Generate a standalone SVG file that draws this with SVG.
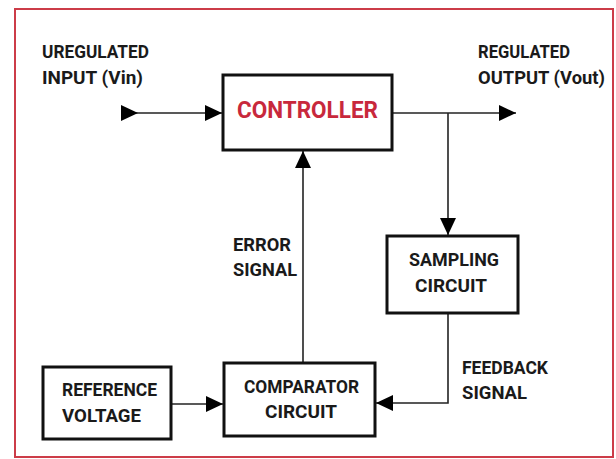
<svg xmlns="http://www.w3.org/2000/svg" width="616" height="459" viewBox="0 0 616 459">
<style>
.box{fill:#fff;stroke:#111;stroke-width:3}
.t{font-family:Roboto,"Liberation Sans",Arial,sans-serif;font-weight:bold;font-size:18px;fill:#1a1a1a}
.big{font-size:24px;fill:#c8283c}
.c{fill:none;stroke:#222;stroke-width:1.6}
</style>
<defs>
<marker id="arr" markerUnits="userSpaceOnUse" markerWidth="17" markerHeight="16" refX="17" refY="8" orient="auto"><path d="M0,0 L17,8 L0,16 z" fill="#000"/></marker>
<marker id="arrS" markerUnits="userSpaceOnUse" markerWidth="17" markerHeight="16" refX="0" refY="8" orient="auto"><path d="M0,0 L17,8 L0,16 z" fill="#000"/></marker>
</defs>
<rect x="0" y="0" width="616" height="459" fill="#fff"/>
<rect x="15" y="9" width="598" height="448" fill="none" stroke="#cc3c48" stroke-width="2"/>
<g id="connectors">
<line class="c" x1="121" y1="113" x2="222" y2="113" marker-start="url(#arrS)" marker-end="url(#arr)"/>
<line class="c" x1="393" y1="113" x2="516" y2="113" marker-end="url(#arr)"/>
<line class="c" x1="448" y1="113" x2="448" y2="235" marker-end="url(#arr)"/>
<polyline class="c" points="448,314 448,403 376,403" marker-end="url(#arr)"/>
<line class="c" x1="303" y1="362" x2="303" y2="151" marker-end="url(#arr)"/>
<line class="c" x1="172" y1="404" x2="223" y2="404" marker-end="url(#arr)"/>
</g>
<g id="input-label">
<text class="t" x="42" y="58" textLength="107" lengthAdjust="spacingAndGlyphs">UREGULATED</text>
<text class="t" x="42" y="84" textLength="101" lengthAdjust="spacingAndGlyphs">INPUT (Vin)</text>
</g>
<g id="output-label">
<text class="t" x="478" y="58" textLength="92" lengthAdjust="spacingAndGlyphs">REGULATED</text>
<text class="t" x="478" y="84" textLength="127" lengthAdjust="spacingAndGlyphs">OUTPUT (Vout)</text>
</g>
<g id="controller">
<rect class="box" x="223" y="75" width="169" height="75"/>
<text class="t big" x="237" y="118" textLength="141" lengthAdjust="spacingAndGlyphs">CONTROLLER</text>
</g>
<g id="sampling">
<rect class="box" x="387" y="236" width="131" height="77"/>
<text class="t" x="409" y="266" textLength="90" lengthAdjust="spacingAndGlyphs">SAMPLING</text>
<text class="t" x="415" y="292" textLength="72" lengthAdjust="spacingAndGlyphs">CIRCUIT</text>
</g>
<g id="comparator">
<rect class="box" x="224" y="363" width="151" height="73"/>
<text class="t" x="244" y="393" textLength="115" lengthAdjust="spacingAndGlyphs">COMPARATOR</text>
<text class="t" x="265" y="418" textLength="72" lengthAdjust="spacingAndGlyphs">CIRCUIT</text>
</g>
<g id="reference">
<rect class="box" x="43" y="367" width="128" height="72"/>
<text class="t" x="62" y="396" textLength="95" lengthAdjust="spacingAndGlyphs">REFERENCE</text>
<text class="t" x="62" y="422" textLength="79" lengthAdjust="spacingAndGlyphs">VOLTAGE</text>
</g>
<g id="error-label">
<text class="t" x="233" y="251" textLength="58" lengthAdjust="spacingAndGlyphs">ERROR</text>
<text class="t" x="233" y="276" textLength="64" lengthAdjust="spacingAndGlyphs">SIGNAL</text>
</g>
<g id="feedback-label">
<text class="t" x="462" y="374" textLength="86" lengthAdjust="spacingAndGlyphs">FEEDBACK</text>
<text class="t" x="462" y="399" textLength="65" lengthAdjust="spacingAndGlyphs">SIGNAL</text>
</g>
</svg>
